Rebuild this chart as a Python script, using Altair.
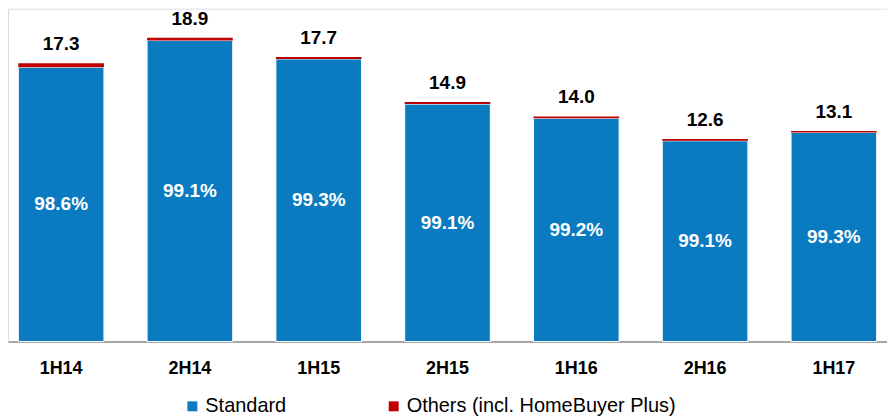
import altair as alt
import pandas as pd

periods = ["1H14", "2H14", "1H15", "2H15", "1H16", "2H16", "1H17"]
totals = [17.3, 18.9, 17.7, 14.9, 14.0, 12.6, 13.1]
standard_pct = [98.6, 99.1, 99.3, 99.1, 99.2, 99.1, 99.3]
series_names = ["Standard", "Others (incl. HomeBuyer Plus)"]
colors = ["#0A7BC1", "#C00000"]

rows = []
for p, t, s in zip(periods, totals, standard_pct):
    std = t * s / 100.0
    rows.append({"period": p, "series": series_names[0], "value": std, "ord": 0})
    rows.append({"period": p, "series": series_names[1], "value": t - std, "ord": 1})
bars_df = pd.DataFrame(rows)

lab_df = pd.DataFrame({
    "period": periods,
    "total": totals,
    "total_label": [f"{t:.1f}" for t in totals],
    "mid": [t * s / 200.0 for t, s in zip(totals, standard_pct)],
    "pct_label": [f"{s:.1f}%" for s in standard_pct],
})

FONT = "Liberation Sans"
xenc = alt.X("period:N", sort=periods,
             scale=alt.Scale(paddingInner=0.335, paddingOuter=0.08),
             axis=alt.Axis(title=None, labelAngle=0, labelFontSize=18, labelFontWeight="bold",
                           labelColor="#000000", labelFont=FONT, ticks=False, labelPadding=18,
                           domainColor="#A6A6A6", domainWidth=2))
yscale = alt.Scale(domain=[0, 20.7], nice=False, zero=True)

bars = alt.Chart(bars_df).mark_bar(stroke="white").encode(
    x=xenc,
    y=alt.Y("value:Q", stack="zero", scale=yscale, axis=None),
    color=alt.Color("series:N", scale=alt.Scale(domain=series_names, range=colors),
                    legend=alt.Legend(title=None, orient="none", direction="horizontal",
                                      legendX=175, legendY=389,
                                      symbolType="square",
                                      symbolSize=100, symbolStrokeWidth=0,
                                      labelFontSize=20, labelFont=FONT, labelColor="#000000",
                                      labelLimit=0, columnPadding=97,
                                      labelOffset=3)),
    strokeWidth=alt.condition(alt.datum.series == "Standard", alt.value(1), alt.value(0)),
    order=alt.Order("ord:Q"),
)

tot = alt.Chart(lab_df).mark_text(fontSize=19, fontWeight="bold", font=FONT, color="#000000",
                                  baseline="alphabetic", dy=-13).encode(
    x=alt.X("period:N", sort=periods),
    y=alt.Y("total:Q", scale=yscale),
    text="total_label:N",
)

pct = alt.Chart(lab_df).mark_text(fontSize=19, fontWeight="bold", font=FONT, color="white",
                                  baseline="middle").encode(
    x=alt.X("period:N", sort=periods),
    y=alt.Y("mid:Q", scale=yscale),
    text="pct_label:N",
)

chart = alt.layer(bars, tot, pct).properties(
    width=882, height=334, padding=0
).configure_view(stroke=None).configure(background="white")

chart.save("out.html", embed_options={"renderer": "svg", "actions": False})
